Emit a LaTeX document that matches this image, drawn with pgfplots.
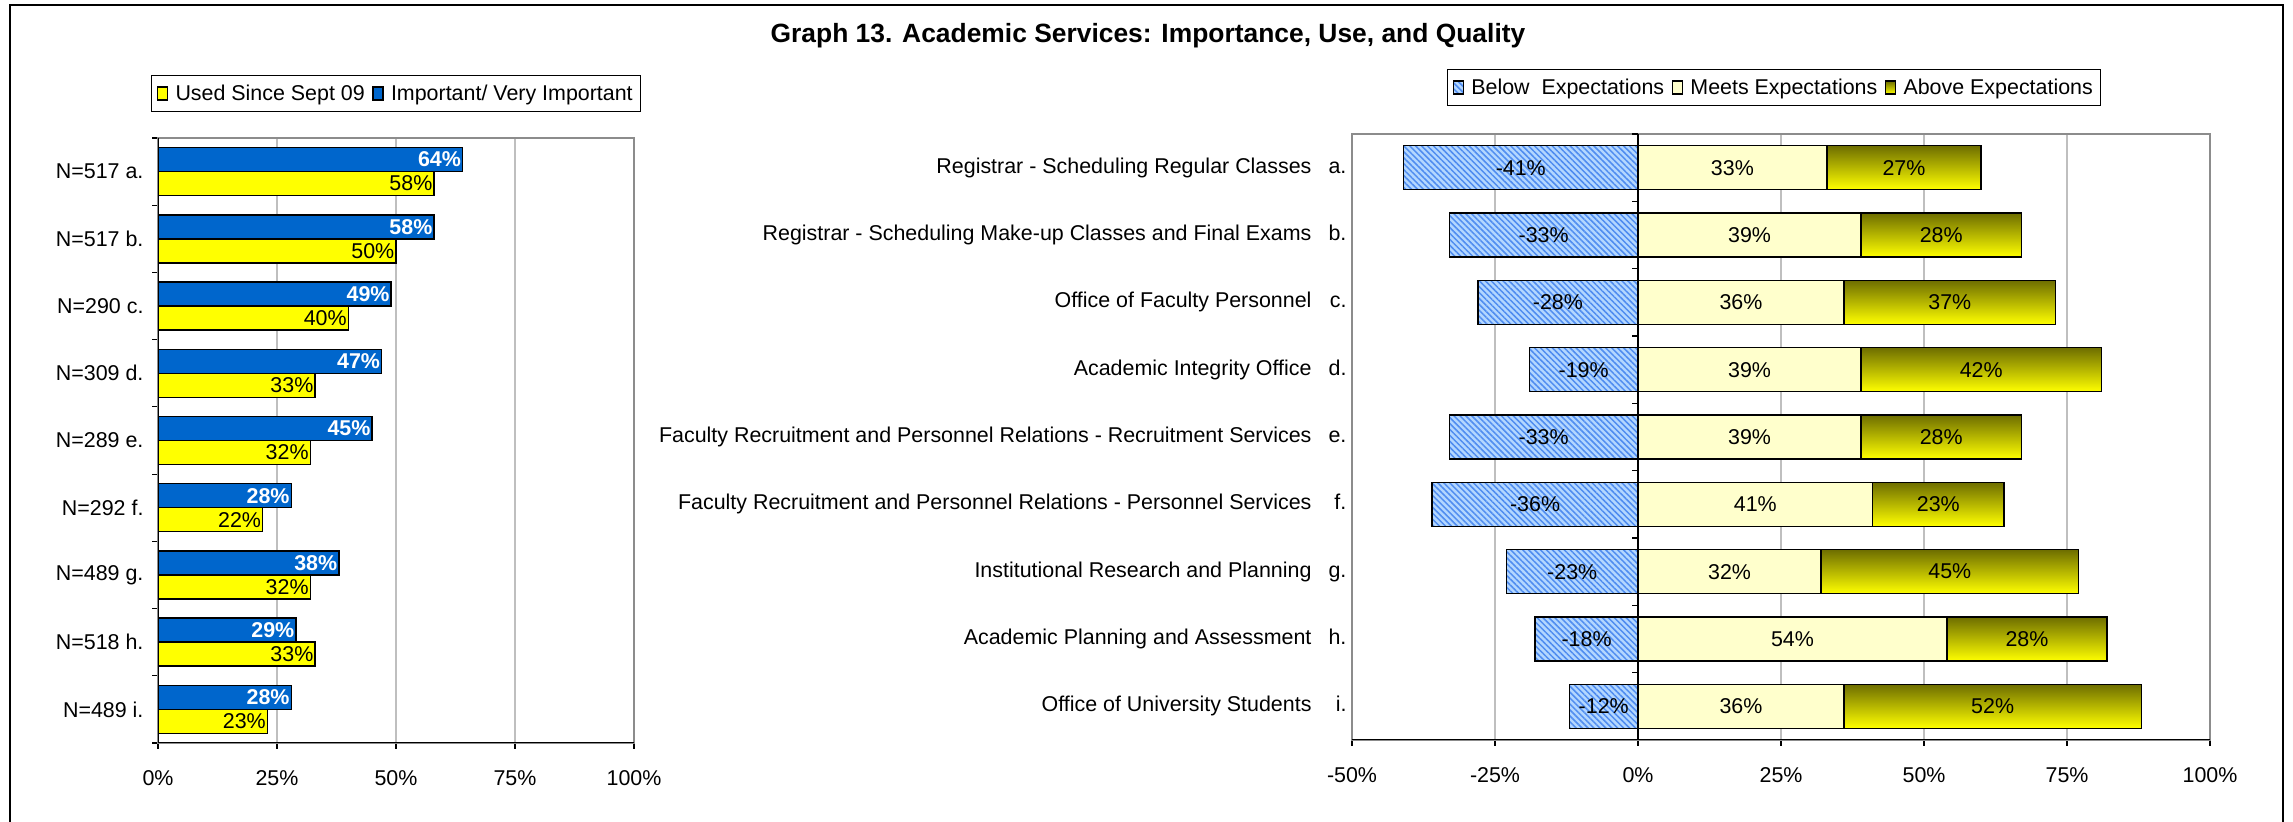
\documentclass[border=0pt]{standalone}
\usepackage{fontspec}
\setmainfont{Liberation Sans}
\usepackage{pgfplots}
\pgfplotsset{compat=1.18}
\usepackage{pgfplotstable}
\usetikzlibrary{patterns,patterns.meta}

\definecolor{impblue}{HTML}{0066CC}
\definecolor{usedyel}{HTML}{FFFF00}
\definecolor{meetsyel}{HTML}{FFFFCC}
\definecolor{aboveTop}{HTML}{6E6E00}
\definecolor{hatchBg}{HTML}{B3D7FF}
\definecolor{hatchLn}{HTML}{4F8CF0}
\definecolor{gridgray}{HTML}{BFBFBF}
\definecolor{boxgray}{HTML}{8C8C8C}

\newcommand{\lab}{\fontsize{21.5}{25}\selectfont}
\newcommand{\ttl}{\fontsize{26.5}{30}\selectfont\bfseries}

\pgfplotsset{
  mylegend/.style={legend image code/.code={\draw[##1,line width=1.2bp] (0bp,-6.5bp) rectangle (10bp,6.5bp);}},
  usedbar/.style={draw=black, line width=1.5bp, fill=usedyel},
  impbar/.style={draw=black, line width=1.5bp, fill=impblue},
  belowbar/.style={draw=black, line width=1.5bp, fill=hatchBg,
     postaction={pattern={Lines[angle=-45,distance=4.2bp,line width=1.5bp]}, pattern color=hatchLn}},
  meetsbar/.style={draw=black, line width=1.5bp, fill=meetsyel},
  abovebar/.style={draw=black, line width=1.5bp, top color=aboveTop, bottom color=usedyel},
  rbar/.style={xbar, bar width=44bp, bar shift=0pt},
  mylegstyle/.style={draw=black, line width=1bp, font=\lab, legend columns=-1,
     inner xsep=5bp, inner ysep=7bp, nodes={inner sep=2.5bp},
     /tikz/every odd column/.append style={column sep=5bp},
     /tikz/every even column/.append style={column sep=5bp}},
}

% Left chart: percent important and percent used
\pgfplotstableread{
pos imp used
8 64 58
7 58 50
6 49 40
5 47 33
4 45 32
3 28 22
2 38 32
1 29 33
0 28 23
}\lefttab

% Right chart: below / meets / above expectations
\pgfplotstableread{
pos below meets above
8 -41 33 27
7 -33 39 28
6 -28 36 37
5 -19 39 42
4 -33 39 28
3 -36 41 23
2 -23 32 45
1 -18 54 28
0 -12 36 52
}\righttab

\begin{document}
\begin{tikzpicture}[x=1bp,y=1bp]
\useasboundingbox (0,0) rectangle (2293,821);
\draw[line width=2.6bp] (10,-10) -- (10,816) -- (2283,816) -- (2283,-10);
\node[font=\ttl] at (1148,785) {Graph 13. Academic Services: Importance, Use, and Quality};

% ---------------- left chart ----------------
\begin{axis}[
  at={(158bp,78bp)}, anchor=south west,
  scale only axis, width=476bp, height=605bp,
  xmin=0, xmax=100, ymin=-0.5, ymax=8.5,
  xbar, bar width=24bp,
  xtick={0,25,50,75,100}, xticklabels={0\%,25\%,50\%,75\%,100\%},
  ytick={0,...,8},
  yticklabels={N=489 i., N=518 h., N=489 g., N=292 f., N=289 e., N=309 d., N=290 c., N=517 b., N=517 a.},
  minor ytick={-0.5,0.5,...,8.5},
  tick align=outside, xtick pos=bottom, ytick pos=left,
  major tick length=6bp, minor tick length=6bp,
  major y tick style={draw=none},
  minor y tick style={black, line width=1.2bp},
  major x tick style={black, line width=1.2bp},
  xmajorgrids, major x grid style={gridgray, line width=1.2bp},
  axis line style={boxgray, line width=1.2bp},
  ticklabel style={font=\lab},
  xticklabel style={yshift=-18.5bp},
  yticklabel style={xshift=-5bp},
  legend style={at={(0.5,1.0736)}, anchor=center, mylegstyle},
]
\addplot[usedbar, mylegend, bar shift=-12bp,
   point meta=explicit symbolic, nodes near coords={\pgfplotspointmeta\%},
   every node near coord/.append style={anchor=east, font=\lab, text=black, inner sep=1bp}]
   table[x=used, y=pos, meta=used] {\lefttab};
\addlegendentry{Used Since Sept 09}
\addplot[impbar, mylegend, bar shift=12bp,
   point meta=explicit symbolic, nodes near coords={\pgfplotspointmeta\%},
   every node near coord/.append style={anchor=east, font=\lab\bfseries, text=white, inner sep=1bp}]
   table[x=imp, y=pos, meta=imp] {\lefttab};
\addlegendentry{Important/ Very Important}
\draw[black, line width=1.5bp] (axis cs:0,8.5) -- (axis cs:0,-0.5) -- (axis cs:100,-0.5);
\end{axis}

% ---------------- right chart ----------------
\begin{axis}[
  at={(1352bp,81bp)}, anchor=south west,
  scale only axis, width=858bp, height=606bp,
  xmin=-50, xmax=100, ymin=-0.5, ymax=8.5,
  xtick={-50,-25,0,25,50,75,100}, xticklabels={-50\%,-25\%,0\%,25\%,50\%,75\%,100\%},
  ytick={0,...,8},
  yticklabels={
    Office of University Students\hspace{17bp}\makebox[18bp][r]{i.},
    Academic Planning and Assessment\hspace{17bp}\makebox[18bp][r]{h.},
    Institutional Research and Planning\hspace{17bp}\makebox[18bp][r]{g.},
    Faculty Recruitment and Personnel Relations - Personnel Services\hspace{17bp}\makebox[18bp][r]{f.},
    Faculty Recruitment and Personnel Relations - Recruitment Services\hspace{17bp}\makebox[18bp][r]{e.},
    Academic Integrity Office\hspace{17bp}\makebox[18bp][r]{d.},
    Office of Faculty Personnel\hspace{17bp}\makebox[18bp][r]{c.},
    Registrar - Scheduling Make-up Classes and Final Exams\hspace{17bp}\makebox[18bp][r]{b.},
    Registrar - Scheduling Regular Classes\hspace{17bp}\makebox[18bp][r]{a.}},
  tick align=outside, xtick pos=bottom, ytick pos=left,
  major tick length=6bp,
  major y tick style={draw=none},
  major x tick style={black, line width=1.2bp},
  xmajorgrids, major x grid style={gridgray, line width=1.2bp},
  axis line style={boxgray, line width=1.2bp},
  ticklabel style={font=\lab},
  xticklabel style={yshift=-18.5bp},
  yticklabel style={xshift=4bp},
  legend style={at={(0.4918,1.0767)}, anchor=center, mylegstyle},
  every node near coord/.append style={anchor=center, font=\lab, text=black},
]
\addplot[rbar, belowbar, mylegend] table[x=below, y=pos] {\righttab};
\addlegendentry{Below\ \ Expectations}
\addlegendimage{meetsbar, mylegend}
\addlegendentry{Meets Expectations}
\addlegendimage{abovebar, mylegend}
\addlegendentry{Above Expectations}
% above-expectation segments: one bar per row (so each has its own gradient),
% running to meets+above, then covered on its left part by the meets bar
\pgfplotsinvokeforeach{0,1,2,3,4,5,6,7,8}{
  \addplot[rbar, abovebar, forget plot, restrict y to domain=#1:#1]
    table[x expr=\thisrow{meets}+\thisrow{above}, y=pos] {\righttab};
}
\addplot[rbar, meetsbar, forget plot] table[x=meets, y=pos] {\righttab};
\draw[black, line width=1.5bp] (axis cs:-50,-0.5) -- (axis cs:100,-0.5);
\draw[black, line width=1.2bp] (axis cs:0,-0.5) -- (axis cs:0,8.5)
  (axis cs:0,-0.5) -- ++(-6bp,0bp) (axis cs:0,0.5) -- ++(-6bp,0bp)
  (axis cs:0,1.5) -- ++(-6bp,0bp) (axis cs:0,2.5) -- ++(-6bp,0bp)
  (axis cs:0,3.5) -- ++(-6bp,0bp) (axis cs:0,4.5) -- ++(-6bp,0bp)
  (axis cs:0,5.5) -- ++(-6bp,0bp) (axis cs:0,6.5) -- ++(-6bp,0bp)
  (axis cs:0,7.5) -- ++(-6bp,0bp) (axis cs:0,8.5) -- ++(-6bp,0bp);
% value labels, centred in each segment
\addplot[draw=none, mark=none, forget plot, point meta=explicit symbolic, nodes near coords={\pgfplotspointmeta\%}]
  table[x expr=\thisrow{below}/2, y=pos, meta=below] {\righttab};
\addplot[draw=none, mark=none, forget plot, point meta=explicit symbolic, nodes near coords={\pgfplotspointmeta\%}]
  table[x expr=\thisrow{meets}/2, y=pos, meta=meets] {\righttab};
\addplot[draw=none, mark=none, forget plot, point meta=explicit symbolic, nodes near coords={\pgfplotspointmeta\%}]
  table[x expr=\thisrow{meets}+\thisrow{above}/2, y=pos, meta=above] {\righttab};
\end{axis}
\end{tikzpicture}
\end{document}
